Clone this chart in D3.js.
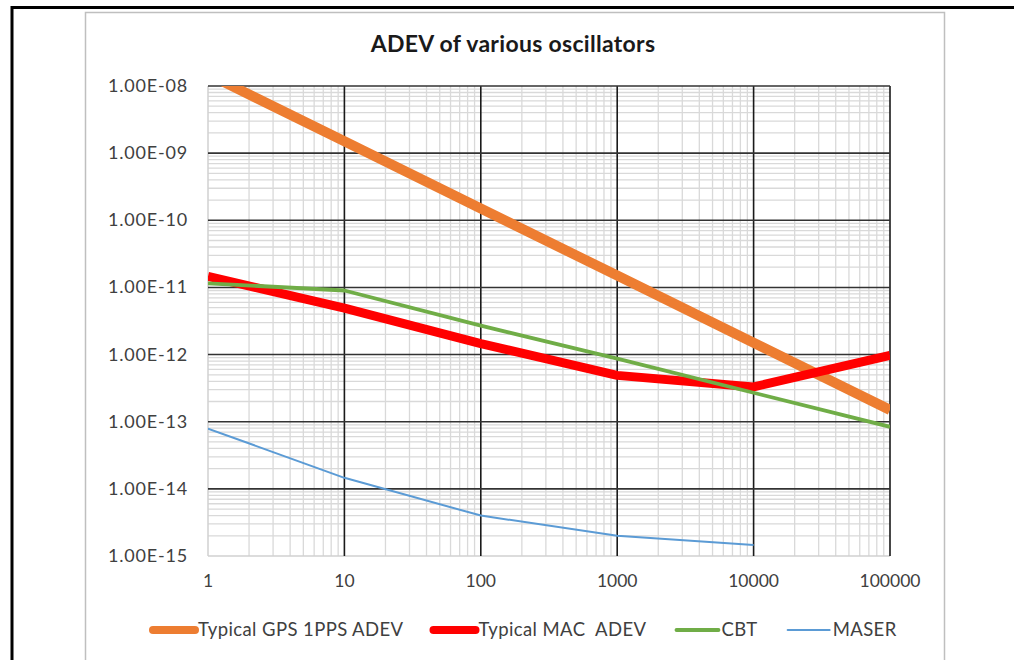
<!DOCTYPE html>
<html>
<head>
<meta charset="utf-8">
<script src="https://cdn.jsdelivr.net/npm/d3@7"></script>
<style>
body { margin: 0; background: #fff; }
svg { display: block; font-family: Lato, "Open Sans", sans-serif; }
text { white-space: pre; }
</style>
</head>
<body>
<svg width="1014" height="660"></svg>
<script>
// data (tau in seconds, ADEV)
var taus = [1, 10, 100, 1000, 10000, 100000];
var gpsAdev = [1.5e-8, 1.5e-9, 1.5e-10, 1.5e-11, 1.5e-12, 1.5e-13];
var macAdev = [1.46e-11, 4.9e-12, 1.46e-12, 4.9e-13, 3.3e-13, 0.97e-12];
var cbtAdev = [1.15e-11, 9.0e-12, 2.7e-12, 8.7e-13, 2.7e-13, 8.4e-14];
var maserTaus = [1, 10, 100, 1000, 10000];
var maserAdev = [7.9e-14, 1.46e-14, 4.0e-15, 2.0e-15, 1.46e-15];

var seriesNames = ["Typical GPS 1PPS ADEV", "Typical MAC  ADEV", "CBT", "MASER"];
var xTicks = [1, 10, 100, 1000, 10000, 100000];
var yTicks = [1e-8, 1e-9, 1e-10, 1e-11, 1e-12, 1e-13, 1e-14, 1e-15];

var series = [
	{ name: seriesNames[0], x: taus, y: gpsAdev, color: "#ED7D31", width: 10 },
	{ name: seriesNames[1], x: taus, y: macAdev, color: "#FF0000", width: 9 },
	{ name: seriesNames[2], x: taus, y: cbtAdev, color: "#70AD47", width: 3.8 },
	{ name: seriesNames[3], x: maserTaus, y: maserAdev, color: "#5B9BD5", width: 2 }
];

var svg = d3.select("svg");

// outer frame and chart border
svg.append("path").attr("d", "M12,660 L12,7.5 L1014,7.5")
	.attr("fill", "none").attr("stroke", "#000").attr("stroke-width", 3);
svg.append("path").attr("d", "M85.5,660 L85.5,12.5 L944.5,12.5 L944.5,660")
	.attr("fill", "none").attr("stroke", "#bfbfbf").attr("stroke-width", 1.5);

var x = d3.scaleLog().domain([1, 100000]).range([208, 890]);
var y = d3.scaleLog().domain([1e-15, 1e-8]).range([556, 86]);

// minor grid
var minorX = [], minorY = [];
for (var d = 0; d < 5; d++) for (var k = 2; k < 10; k++) minorX.push(k * Math.pow(10, d));
for (var e = -15; e < -8; e++) for (var k = 2; k < 10; k++) minorY.push(k * Math.pow(10, e));

var grid = svg.append("g");
grid.selectAll(".mx").data(minorX).enter().append("line")
	.attr("x1", d => x(d)).attr("x2", d => x(d)).attr("y1", y(1e-15)).attr("y2", y(1e-8))
	.attr("stroke", "#d9d9d9").attr("stroke-width", 1.3);
grid.selectAll(".my").data(minorY).enter().append("line")
	.attr("y1", d => y(d)).attr("y2", d => y(d)).attr("x1", x(1)).attr("x2", x(1e5))
	.attr("stroke", "#d9d9d9").attr("stroke-width", 1.3);
// left and bottom edges light
grid.append("line").attr("x1", x(1)).attr("x2", x(1)).attr("y1", y(1e-15)).attr("y2", y(1e-8))
	.attr("stroke", "#d0d0d0").attr("stroke-width", 1.5);
grid.append("line").attr("x1", x(1)).attr("x2", x(1e5)).attr("y1", y(1e-15)).attr("y2", y(1e-15))
	.attr("stroke", "#d0d0d0").attr("stroke-width", 1.5);
// major grid
grid.selectAll(".MX").data(xTicks.slice(1)).enter().append("line")
	.attr("x1", d => x(d)).attr("x2", d => x(d)).attr("y1", y(1e-15)).attr("y2", y(1e-8))
	.attr("stroke", "#1a1a1a").attr("stroke-width", 1.6);
grid.selectAll(".MY").data(yTicks.slice(0, -1)).enter().append("line")
	.attr("y1", d => y(d)).attr("y2", d => y(d)).attr("x1", x(1)).attr("x2", x(1e5))
	.attr("stroke", "#333").attr("stroke-width", 1.6);

// axis labels
function sciLabel(d) {
	var p = Math.round(-Math.log10(d));
	return "1.00E-" + (p < 10 ? "0" + p : p);
}
svg.append("g").selectAll("text").data(yTicks).enter().append("text")
	.attr("x", 188).attr("y", d => y(d) + 6)
	.attr("text-anchor", "end").attr("font-size", 18).attr("letter-spacing", 0.8).attr("fill", "#404040")
	.text(sciLabel);
svg.append("g").selectAll("text").data(xTicks).enter().append("text")
	.attr("x", d => x(d)).attr("y", 587)
	.attr("text-anchor", "middle").attr("font-size", 17.5).attr("fill", "#404040")
	.text(d => String(d));

// title
svg.append("text").attr("x", 513).attr("y", 52).attr("text-anchor", "middle")
	.attr("font-size", 23).attr("font-weight", "bold").attr("letter-spacing", 0.3).attr("fill", "#1a1a1a")
	.text("ADEV of various oscillators");

// series lines, clipped to plot area
svg.append("clipPath").attr("id", "plotclip").append("rect")
	.attr("x", x(1)).attr("y", y(1e-8)).attr("width", x(1e5) - x(1)).attr("height", y(1e-15) - y(1e-8));
var line = d3.line().x(d => x(d[0])).y(d => y(d[1]));
var plot = svg.append("g").attr("clip-path", "url(#plotclip)");
series.forEach(function(s) {
	plot.append("path").datum(d3.zip(s.x, s.y)).attr("d", line)
		.attr("fill", "none").attr("stroke", s.color).attr("stroke-width", s.width)
		.attr("stroke-linejoin", "round");
});

// legend
var legend = svg.append("g");
var lx = 153, ly = 630;
series.forEach(function(s) {
	legend.append("line").attr("x1", lx).attr("x2", lx + 42).attr("y1", ly).attr("y2", ly)
		.attr("stroke", s.color).attr("stroke-width", Math.min(s.width, 8)).attr("stroke-linecap", "round");
	var t = legend.append("text").attr("x", lx + 45).attr("y", ly + 6)
		.attr("font-size", 18.5).attr("letter-spacing", 0.4).attr("fill", "#404040").text(s.name);
	lx += 45 + t.node().getComputedTextLength() + 30;
});
</script>
</body>
</html>
